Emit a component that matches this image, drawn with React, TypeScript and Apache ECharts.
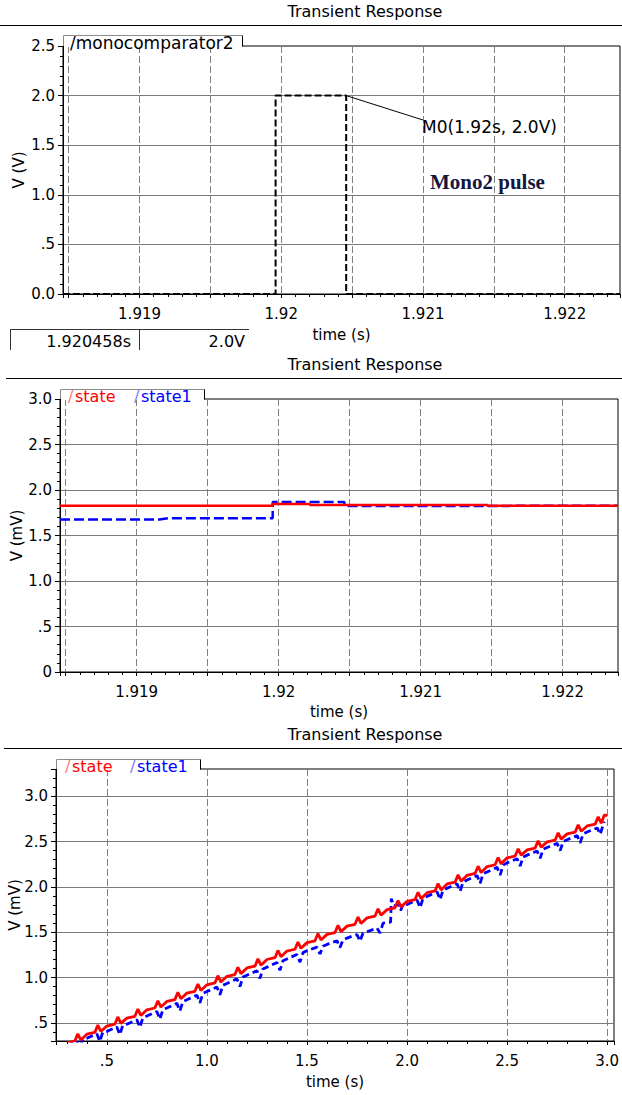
import { useEffect, useRef } from 'react';
import * as echarts from 'echarts';

// ---------- Panel 1: /monocomparator2 (V) ----------
const monoTime = [1.91846, 1.91996, 1.91996, 1.920458, 1.920458, 1.92239];
const monoVolt = [0, 0, 2.0, 2.0, 0, 0];
const markerAt = [1.920458, 2.0];
const markerLeaderEnd = [1.921, 1.754];

// ---------- Panel 2: zoomed state / state1 (mV) ----------
const zStateTime = [1.91846, 1.919958, 1.919958, 1.92022, 1.92022, 1.92147, 1.92147, 1.92239];
const zStateVal = [1.828, 1.828, 1.847, 1.847, 1.836, 1.836, 1.828, 1.828];
const zState1Time = [1.91846, 1.91916, 1.91922, 1.919958, 1.919958, 1.920463, 1.920463, 1.92147, 1.92147, 1.92239];
const zState1Val = [1.675, 1.675, 1.69, 1.69, 1.869, 1.869, 1.825, 1.825, 1.828, 1.828];

// ---------- Panel 3: full state / state1 (mV) ----------
const state3: number[][] = [
  [0.300, 0.280], [0.340, 0.300], [0.355, 0.380], [0.370, 0.310],
  [0.400, 0.375], [0.440, 0.395], [0.455, 0.475], [0.470, 0.405],
  [0.500, 0.465], [0.540, 0.485], [0.555, 0.565], [0.570, 0.495],
  [0.600, 0.552], [0.640, 0.572], [0.655, 0.652], [0.670, 0.582],
  [0.700, 0.644], [0.740, 0.664], [0.755, 0.744], [0.770, 0.674],
  [0.800, 0.736], [0.840, 0.756], [0.855, 0.836], [0.870, 0.766],
  [0.900, 0.828], [0.940, 0.848], [0.955, 0.928], [0.970, 0.858],
  [1.000, 0.920], [1.040, 0.940], [1.055, 1.020], [1.070, 0.950],
  [1.100, 1.013], [1.140, 1.033], [1.155, 1.113], [1.170, 1.043],
  [1.200, 1.106], [1.240, 1.126], [1.255, 1.206], [1.270, 1.136],
  [1.300, 1.199], [1.340, 1.219], [1.355, 1.299], [1.370, 1.229],
  [1.400, 1.292], [1.440, 1.312], [1.455, 1.392], [1.470, 1.322],
  [1.500, 1.385], [1.540, 1.405], [1.555, 1.485], [1.570, 1.415],
  [1.600, 1.476], [1.640, 1.496], [1.655, 1.576], [1.670, 1.506],
  [1.700, 1.567], [1.740, 1.587], [1.755, 1.667], [1.770, 1.597],
  [1.800, 1.658], [1.840, 1.678], [1.855, 1.758], [1.870, 1.688],
  [1.900, 1.749], [1.940, 1.769], [1.955, 1.849], [1.970, 1.779],
  [2.000, 1.840], [2.040, 1.860], [2.055, 1.940], [2.070, 1.870],
  [2.100, 1.936], [2.140, 1.956], [2.155, 2.036], [2.170, 1.966],
  [2.200, 2.032], [2.240, 2.052], [2.255, 2.132], [2.270, 2.062],
  [2.300, 2.128], [2.340, 2.148], [2.355, 2.228], [2.370, 2.158],
  [2.400, 2.224], [2.440, 2.244], [2.455, 2.324], [2.470, 2.254],
  [2.500, 2.320], [2.540, 2.340], [2.555, 2.420], [2.570, 2.350],
  [2.600, 2.408], [2.640, 2.428], [2.655, 2.508], [2.670, 2.438],
  [2.700, 2.496], [2.740, 2.516], [2.755, 2.596], [2.770, 2.526],
  [2.800, 2.584], [2.840, 2.604], [2.855, 2.684], [2.870, 2.614],
  [2.900, 2.672], [2.940, 2.692], [2.955, 2.772], [2.970, 2.702],
  [2.985, 2.790], [3.000, 2.790],
];
const state1_3: number[][] = [
  [0.300, 0.250], [0.350, 0.300], [0.365, 0.215], [0.380, 0.320],
  [0.400, 0.330], [0.450, 0.380], [0.465, 0.295], [0.480, 0.400],
  [0.500, 0.405], [0.550, 0.455], [0.565, 0.370], [0.580, 0.475],
  [0.600, 0.485], [0.650, 0.535], [0.665, 0.450], [0.680, 0.555],
  [0.700, 0.575], [0.750, 0.625], [0.765, 0.540], [0.780, 0.645],
  [0.800, 0.665], [0.850, 0.715], [0.865, 0.630], [0.880, 0.735],
  [0.900, 0.755], [0.950, 0.805], [0.965, 0.720], [0.980, 0.825],
  [1.000, 0.845], [1.050, 0.895], [1.065, 0.810], [1.080, 0.915],
  [1.100, 0.935], [1.150, 0.985], [1.165, 0.900], [1.180, 1.005],
  [1.200, 1.025], [1.250, 1.075], [1.265, 0.990], [1.280, 1.095],
  [1.300, 1.115], [1.350, 1.165], [1.365, 1.080], [1.380, 1.185],
  [1.400, 1.205], [1.450, 1.255], [1.465, 1.170], [1.480, 1.275],
  [1.500, 1.295], [1.550, 1.335], [1.565, 1.260], [1.580, 1.345],
  [1.600, 1.365], [1.650, 1.405], [1.665, 1.330], [1.680, 1.415],
  [1.700, 1.435], [1.750, 1.475], [1.765, 1.400], [1.780, 1.490],
  [1.800, 1.505], [1.850, 1.545], [1.865, 1.490], [1.880, 1.600],
  [1.918, 1.610], [1.921, 1.870], [1.935, 1.790], [1.955, 1.810],
  [1.968, 1.740], [1.982, 1.820],
  [2.000, 1.805], [2.050, 1.855], [2.065, 1.770], [2.080, 1.875],
  [2.100, 1.895], [2.150, 1.945], [2.165, 1.860], [2.180, 1.965],
  [2.200, 1.985], [2.250, 2.035], [2.265, 1.950], [2.280, 2.055],
  [2.300, 2.075], [2.350, 2.125], [2.365, 2.040], [2.380, 2.145],
  [2.400, 2.165], [2.450, 2.215], [2.465, 2.130], [2.480, 2.240],
  [2.500, 2.265], [2.550, 2.310], [2.565, 2.230], [2.580, 2.330],
  [2.600, 2.350], [2.650, 2.395], [2.665, 2.315], [2.680, 2.415],
  [2.700, 2.435], [2.750, 2.480], [2.765, 2.400], [2.780, 2.500],
  [2.800, 2.520], [2.850, 2.565], [2.865, 2.485], [2.880, 2.585],
  [2.900, 2.605], [2.950, 2.650], [2.965, 2.580], [2.985, 2.720],
];

// ---------- Tick labels ----------
const zoomTimeTicks = [1.919, 1.92, 1.921, 1.922];
const zoomTimeLabels = ['1.919', '1.92', '1.921', '1.922'];
const p1YTicks = [0, 0.5, 1, 1.5, 2, 2.5];
const p1YLabels = ['0.0', '.5', '1.0', '1.5', '2.0', '2.5'];
const p2YTicks = [0, 0.5, 1, 1.5, 2, 2.5, 3];
const p2YLabels = ['0', '.5', '1.0', '1.5', '2.0', '2.5', '3.0'];
const p3YTicks = [0.5, 1, 1.5, 2, 2.5, 3];
const p3YLabels = ['.5', '1.0', '1.5', '2.0', '2.5', '3.0'];
const p3XTicks = [0.5, 1, 1.5, 2, 2.5, 3];
const p3XLabels = ['.5', '1.0', '1.5', '2.0', '2.5', '3.0'];

const FONT = '"DejaVu Sans", sans-serif';

const zip = (a: number[], b: number[]) => a.map((v, i) => [v, b[i]]);
const fmt = (ticks: number[], labels: string[]) => (v: number) => {
  const i = ticks.findIndex((t) => Math.abs(t - v) < 1e-7);
  return i >= 0 ? labels[i] : '';
};

function makeX(grid: number, min: number, max: number, step: number, ticks: number[], labels: string[], nameGap: number) {
  return {
    type: 'value', gridIndex: grid, min, max, minInterval: step, maxInterval: step,
    name: 'time (s)', nameLocation: 'middle', nameGap, nameMoveOverlap: false,
    nameTextStyle: { color: '#000', fontSize: 15, fontFamily: FONT },
    axisLine: { show: true, onZero: false, lineStyle: { color: '#000', width: 1 } },
    axisTick: { show: true, length: 4, lineStyle: { color: '#000' } },
    minorTick: { show: true, splitNumber: 5, length: 3, lineStyle: { color: '#000' } },
    axisLabel: { color: '#000', fontSize: 15, fontFamily: FONT, margin: 12, formatter: fmt(ticks, labels) },
    splitLine: { show: true, showMinLine: false, showMaxLine: false, lineStyle: { color: '#808080', width: 1, type: [7, 3] } },
  };
}

function makeY(grid: number, min: number, max: number, name: string, ticks: number[], labels: string[], nameGap: number) {
  return {
    type: 'value', gridIndex: grid, min, max, minInterval: 0.5, maxInterval: 0.5,
    name, nameLocation: 'middle', nameGap, nameMoveOverlap: false,
    nameTextStyle: { color: '#000', fontSize: 15, fontFamily: FONT },
    axisLine: { show: true, onZero: false, lineStyle: { color: '#000', width: 1 } },
    axisTick: { show: true, length: 5, lineStyle: { color: '#000' } },
    minorTick: { show: true, splitNumber: 5, length: 3, lineStyle: { color: '#000' } },
    axisLabel: { color: '#000', fontSize: 15, fontFamily: FONT, margin: 8, formatter: fmt(ticks, labels) },
    splitLine: { show: true, showMinLine: false, showMaxLine: false, lineStyle: { color: '#7a7a7a', width: 1, type: 'solid' } },
  };
}

function tab(x0: number, x1: number, top: number, frameTop: number) {
  return [
    { type: 'rect', z: 100, shape: { x: x0 + 1, y: top, width: x1 - x0 - 1, height: frameTop - top + 1 }, style: { fill: '#fff' } },
    { type: 'polyline', z: 101, shape: { points: [[x0 + 0.5, frameTop], [x0 + 0.5, top + 0.5], [x1 + 0.5, top + 0.5]] }, style: { stroke: '#8c8c8c', fill: null, lineWidth: 1 } },
    { type: 'line', z: 101, shape: { x1: x1 + 0.5, y1: top + 0.5, x2: x1 + 0.5, y2: frameTop + 0.5 }, style: { stroke: '#000', lineWidth: 1 } },
  ];
}

function txt(x: number, y: number, text: string, fill = '#000', size = 15, align = 'left', font?: string) {
  return {
    type: 'text', z: 102, x, y,
    style: { text, fill, align, verticalAlign: 'middle', font: font || `${size}px ${FONT}` },
  };
}

function hline(x1: number, x2: number, y: number, stroke = '#000') {
  return { type: 'line', z: 101, shape: { x1, y1: y + 0.5, x2, y2: y + 0.5 }, style: { stroke, lineWidth: 1 } };
}
function vline(x: number, y1: number, y2: number, stroke = '#000') {
  return { type: 'line', z: 101, shape: { x1: x + 0.5, y1, x2: x + 0.5, y2 }, style: { stroke, lineWidth: 1 } };
}

const gridBase = { show: true, borderColor: '#000', borderWidth: 1, backgroundColor: 'transparent', containLabel: false, outerBoundsMode: 'none' };

export default function App() {
  const ref = useRef<HTMLDivElement>(null);
  useEffect(() => {
    if (!ref.current) return;
    const chart = echarts.init(ref.current, undefined, { renderer: 'svg' });
    const option: any = {
      animation: false,
      backgroundColor: '#fff',
      grid: [
        { ...gridBase, left: 63, top: 46, width: 557, height: 248 },
        { ...gridBase, left: 60, top: 399, width: 558, height: 273 },
        { ...gridBase, left: 56, top: 769, width: 558, height: 272 },
      ],
      xAxis: [
        makeX(0, 1.91846, 1.92239, 0.0005, zoomTimeTicks, zoomTimeLabels, 33),
        makeX(1, 1.91846, 1.92239, 0.0005, zoomTimeTicks, zoomTimeLabels, 32),
        makeX(2, 0.246, 3.034, 0.5, p3XTicks, p3XLabels, 33),
      ],
      yAxis: [
        makeY(0, 0, 2.5, 'V (V)', p1YTicks, p1YLabels, 37),
        makeY(1, 0, 3, 'V (mV)', p2YTicks, p2YLabels, 36),
        makeY(2, 0.3, 3.3, 'V (mV)', p3YTicks, p3YLabels, 34),
      ],
      series: [
        {
          type: 'line', xAxisIndex: 0, yAxisIndex: 0, data: zip(monoTime, monoVolt),
          symbol: 'none', lineStyle: { color: '#000', width: 2, type: [7, 3] },
          markLine: {
            silent: true, symbol: ['none', 'none'], label: { show: false },
            lineStyle: { color: '#000', width: 1, type: 'solid' },
            data: [[{ coord: markerAt }, { coord: markerLeaderEnd }]],
          },
        },
        {
          type: 'line', xAxisIndex: 1, yAxisIndex: 1, data: zip(zState1Time, zState1Val),
          symbol: 'none', lineStyle: { color: '#0000ff', width: 2.5, type: [10, 4] },
        },
        {
          type: 'line', xAxisIndex: 1, yAxisIndex: 1, data: zip(zStateTime, zStateVal),
          symbol: 'none', lineStyle: { color: '#ff0000', width: 2.5 },
        },
        {
          type: 'line', xAxisIndex: 2, yAxisIndex: 2, data: state1_3,
          symbol: 'none', lineStyle: { color: '#0000ff', width: 2.8, type: [7, 4] },
        },
        {
          type: 'line', xAxisIndex: 2, yAxisIndex: 2, data: state3,
          symbol: 'none', lineStyle: { color: '#ff0000', width: 2.8 },
        },
      ],
      graphic: [
        txt(365, 11, 'Transient Response', '#000', 16, 'center'),
        hline(0, 622, 25),
        txt(365, 364, 'Transient Response', '#000', 16, 'center'),
        hline(6, 622, 378),
        txt(365, 734, 'Transient Response', '#000', 16, 'center'),
        hline(4, 622, 748),
        // panel 1 tab
        ...tab(63, 242, 35, 46),
        txt(70, 43, '/monocomparator2', '#000', 17),
        // marker label and note
        txt(422, 127, 'M0(1.92s, 2.0V)', '#000', 17),
        txt(430, 182, 'Mono2 pulse', '#14173d', 21, 'left', 'bold 21px "Liberation Serif", "Times New Roman", serif'),
        // cursor readout box
        hline(10, 249, 329, '#333'),
        vline(10, 329, 350, '#333'),
        vline(139, 329, 350, '#333'),
        txt(131, 341, '1.920458s', '#000', 16, 'right'),
        txt(245, 341, '2.0V', '#000', 16, 'right'),
        // panel 2 tab
        ...tab(60, 204, 389, 399),
        txt(68, 396, '/', '#ff7a7a', 16),
        txt(75, 396, 'state', '#ff0000', 16),
        txt(134, 396, '/', '#7a7aff', 16),
        txt(141, 396, 'state1', '#0000ff', 16),
        // panel 3 tab
        ...tab(56, 200, 759, 769),
        txt(65, 766, '/', '#ff7a7a', 16),
        txt(72, 766, 'state', '#ff0000', 16),
        txt(130, 766, '/', '#7a7aff', 16),
        txt(137, 766, 'state1', '#0000ff', 16),
      ],
    };
    chart.setOption(option);
    return () => chart.dispose();
  }, []);
  return (
    <div
      ref={ref}
      style={{ position: 'absolute', left: 0, top: 0, width: 622, height: 1095, background: '#fff' }}
    />
  );
}
